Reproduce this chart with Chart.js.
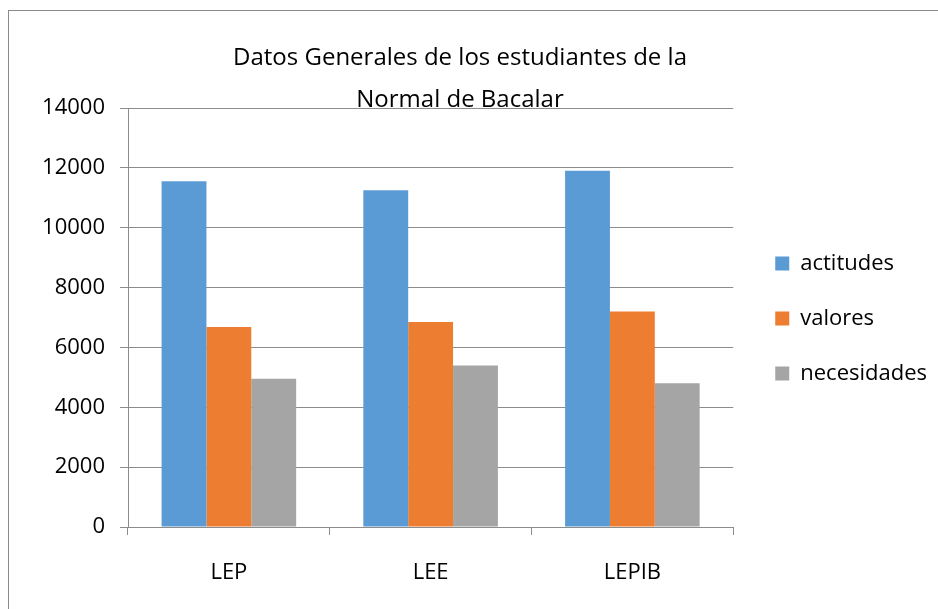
<!DOCTYPE html>
<html>
<head>
<meta charset="utf-8">
<script src="https://cdn.jsdelivr.net/npm/chart.js@4.4.0/dist/chart.umd.min.js"></script>
<style>
    html, body { margin: 0; padding: 0; background: #fff; overflow: hidden; }
    #frame { position: absolute; left: 8px; top: 10px; width: 1000px; height: 1000px; border: 1px solid #8a8a8a; }
    #wrap { position: absolute; left: 0; top: 0; width: 938px; height: 609px; }
</style>
</head>
<body>
<div id="frame"></div>
<div id="wrap"><canvas id="chart" width="938" height="609"></canvas></div>
<script>
const categories = ['LEP', 'LEE', 'LEPIB'];
const actitudes = [11550, 11250, 11900];
const valores = [6680, 6850, 7200];
const necesidades = [4950, 5400, 4800];
const yMax = 14000;
const yStep = 2000;
const titleLines = ['Datos Generales de los estudiantes de la', 'Normal de Bacalar'];

const FONT = "'Open Sans', 'DejaVu Sans', sans-serif";
const gridColor = '#8c8c8c';

// title sits on top of the first gridline like in the excel original
const titlePlugin = {
    id: 'excelTitle',
    afterDraw: (chart) => {
        const { ctx } = chart;
        ctx.save();
        ctx.font = '24px ' + FONT;
        ctx.fillStyle = '#000';
        ctx.textAlign = 'center';
        ctx.textBaseline = 'middle';
        ctx.fillText(titleLines[0], 460, 58);
        ctx.fillText(titleLines[1], 460, 100);
        ctx.restore();
    }
};

// legend box spans down to the canvas bottom, pull it up and a bit right
const legendShift = {
    id: 'legendShift',
    afterLayout: (chart) => {
        if (chart.legend) {
            chart.legend.left += 9;
            chart.legend.right += 9;
            chart.legend.top -= 40;
            chart.legend.bottom -= 40;
        }
    }
};

new Chart(document.getElementById('chart').getContext('2d'), {
    type: 'bar',
    data: {
        labels: categories,
        datasets: [
            { label: 'actitudes', data: actitudes, backgroundColor: '#5b9bd5' },
            { label: 'valores', data: valores, backgroundColor: '#ed7d31' },
            { label: 'necesidades', data: necesidades, backgroundColor: '#a5a5a5' }
        ]
    },
    options: {
        responsive: false,
        devicePixelRatio: 1,
        animation: false,
        layout: { padding: { top: 108, left: 0, right: 10, bottom: 0 } },
        datasets: {
            bar: { categoryPercentage: 0.667, barPercentage: 1, borderWidth: 0 }
        },
        plugins: {
            title: { display: false },
            tooltip: { enabled: false },
            legend: {
                position: 'right',
                align: 'center',
                labels: {
                    boxWidth: 14,
                    boxHeight: 14,
                    padding: 33,
                    color: '#000',
                    font: { family: FONT, size: 22 }
                }
            }
        },
        scales: {
            x: {
                afterFit: (scale) => { scale.height = 82; },
                grid: { drawOnChartArea: false, drawTicks: true, tickLength: 8, color: gridColor },
                border: { color: gridColor, width: 1 },
                ticks: { color: '#000', padding: 25, font: { family: FONT, size: 22 } }
            },
            y: {
                min: 0,
                max: yMax,
                afterFit: (scale) => { scale.width = 128; },
                grid: { color: gridColor, tickLength: 8, lineWidth: 1 },
                border: { color: gridColor, width: 1 },
                ticks: {
                    stepSize: yStep,
                    color: '#000',
                    padding: 15,
                    font: { family: FONT, size: 22 },
                    callback: (value) => String(value)
                }
            }
        }
    },
    plugins: [titlePlugin, legendShift]
});
</script>
</body>
</html>
